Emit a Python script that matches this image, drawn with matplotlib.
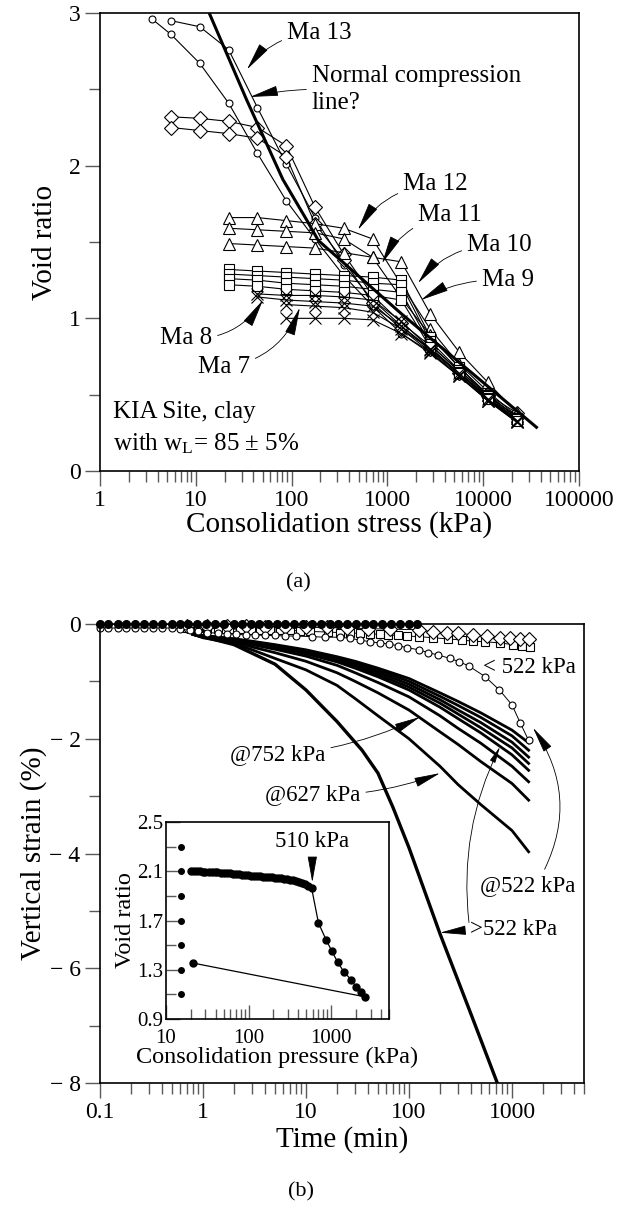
import numpy as np
import matplotlib
matplotlib.use("Agg")
import matplotlib.pyplot as plt
from matplotlib.ticker import LogLocator, NullFormatter, FixedLocator

plt.rcParams.update({
    "font.family": "Liberation Serif",
    "mathtext.fontset": "custom",
    "mathtext.rm": "Liberation Serif",
    "mathtext.it": "Liberation Serif:italic",
    "axes.linewidth": 1.2,
})

# ---------------- (a) oedometer curves ----------------
p_c1 = [5.5, 11, 22, 44, 88, 175, 350, 700, 1400, 2800, 5600, 11200, 22400]
e_c1 = [2.95, 2.91, 2.76, 2.38, 2.01, 1.66, 1.35, 1.12, 0.95, 0.80, 0.64, 0.48, 0.33]
p_c2 = [3.5, 5.5, 11, 22, 44, 88, 175, 350, 700, 1400, 2800, 5600, 11200, 22400]
e_c2 = [2.96, 2.86, 2.67, 2.41, 2.08, 1.77, 1.52, 1.28, 1.08, 0.90, 0.78, 0.62, 0.47, 0.33]

p_dia = [5.5, 11, 22, 44, 88, 175, 350, 700, 1400, 2800, 5600, 11200, 22400]
e_d1 = [2.32, 2.31, 2.29, 2.25, 2.13, 1.73, 1.42, 1.15, 0.97, 0.82, 0.66, 0.50, 0.38]
e_d2 = [2.25, 2.23, 2.21, 2.18, 2.06, 1.62, 1.38, 1.10, 0.93, 0.80, 0.64, 0.49, 0.36]

p_tri = [22, 44, 88, 175, 350, 700, 1400, 2800, 5600, 11200, 22400]
e_ma12 = [1.66, 1.66, 1.64, 1.62, 1.59, 1.52, 1.22, 0.93, 0.70, 0.52, 0.36]
e_ma11 = [1.59, 1.58, 1.57, 1.56, 1.52, 1.40, 1.13, 0.89, 0.68, 0.50, 0.35]
e_ma10 = [1.49, 1.48, 1.47, 1.46, 1.43, 1.40, 1.37, 1.03, 0.78, 0.58, 0.38]

p_sq = [22, 44, 88, 175, 350, 700, 1400, 2800, 5600, 11200, 22400]
e_s1 = [1.32, 1.31, 1.30, 1.29, 1.28, 1.27, 1.25, 0.88, 0.68, 0.50, 0.35]
e_s2 = [1.29, 1.28, 1.27, 1.26, 1.25, 1.23, 1.22, 0.85, 0.66, 0.49, 0.34]
e_s3 = [1.26, 1.25, 1.23, 1.22, 1.21, 1.19, 1.17, 0.83, 0.65, 0.48, 0.34]
e_s4 = [1.22, 1.21, 1.19, 1.18, 1.17, 1.15, 1.12, 0.81, 0.64, 0.47, 0.33]

p_x1 = [44, 88, 175, 350, 700, 1400, 2800, 5600, 11200, 22400]
e_x1 = [1.16, 1.15, 1.15, 1.14, 1.12, 0.98, 0.80, 0.64, 0.47, 0.33]
e_x2 = [1.14, 1.12, 1.11, 1.10, 1.08, 0.95, 0.79, 0.63, 0.46, 0.33]
p_x3 = [88, 175, 350, 700, 1400, 2800, 5600, 11200, 22400]
e_x3 = [1.09, 1.08, 1.07, 1.04, 0.93, 0.78, 0.62, 0.46, 0.32]
e_x4 = [1.00, 1.00, 1.00, 0.99, 0.90, 0.77, 0.62, 0.46, 0.32]

p_ncl = [13.8, 34, 81, 145, 190, 1400, 37000]
e_ncl = [3.0, 2.43, 1.91, 1.64, 1.51, 1.03, 0.28]

# ---------------- (b) strain vs time ----------------
t_fill = [0.1, 0.12, 0.15, 0.18, 0.22, 0.27, 0.33, 0.4, 0.5, 0.6, 0.72, 0.88,
          1.07, 1.3, 1.6, 2, 2.4, 2.9, 3.5, 4.3, 5.2, 6.3, 7.7, 9.4, 11.4, 14,
          17, 20.5, 25, 30.5, 37, 45, 55, 67, 82, 100, 120]
s_fill = [0.0] * len(t_fill)

t_open = [0.1, 0.12, 0.15, 0.18, 0.22, 0.27, 0.33, 0.4, 0.5, 0.6, 0.75, 0.9,
          1.1, 1.4, 1.7, 2.1, 2.6, 3.2, 4, 5, 6.3, 8, 11.4, 15.3, 21.4, 26.7,
          33.4, 41.8, 52, 64, 79, 95, 124, 154, 192, 250, 308, 380, 550, 755,
          1000, 1200, 1450]
s_open = [-0.07, -0.07, -0.07, -0.07, -0.07, -0.07, -0.07, -0.07, -0.07, -0.09,
          -0.11, -0.13, -0.15, -0.16, -0.17, -0.18, -0.19, -0.19, -0.20, -0.20,
          -0.21, -0.21, -0.22, -0.23, -0.23, -0.25, -0.28, -0.31, -0.33, -0.35,
          -0.38, -0.41, -0.45, -0.50, -0.54, -0.60, -0.66, -0.73, -0.92, -1.15,
          -1.41, -1.72, -2.03]

t_sq = [0.7, 0.9, 1.1, 1.4, 1.8, 2.3, 2.9, 3.6, 4.5, 5.6, 7, 8.7, 10.9, 16.4,
        21.4, 26.7, 33.4, 41.8, 52, 62, 78, 95, 124, 172, 240, 330, 420, 550,
        770, 1020, 1250, 1480]
s_sq = [-0.07, -0.07, -0.08, -0.08, -0.09, -0.09, -0.10, -0.10, -0.10, -0.11,
        -0.11, -0.12, -0.13, -0.14, -0.15, -0.16, -0.16, -0.17, -0.18, -0.19,
        -0.20, -0.21, -0.22, -0.24, -0.26, -0.28, -0.30, -0.31, -0.33, -0.36,
        -0.38, -0.40]

t_dia = [0.7, 1.1, 1.7, 2.6, 4, 6.3, 10, 16, 25, 40, 66, 124, 172, 235, 300,
         420, 570, 770, 960, 1200, 1450]
s_dia = [-0.03, -0.03, -0.04, -0.04, -0.05, -0.05, -0.06, -0.06, -0.07, -0.08,
         -0.09, -0.10, -0.14, -0.16, -0.16, -0.19, -0.21, -0.24, -0.24, -0.26,
         -0.27]

t_line = [0.8, 1, 2, 3, 5, 10, 20, 30, 50, 100, 200, 300, 500, 1000, 1450]
s_lines = [
    [-0.17, -0.20, -0.26, -0.30, -0.36, -0.45, -0.57, -0.65, -0.77, -0.95, -1.20, -1.35, -1.55, -1.85, -2.07],
    [-0.17, -0.20, -0.26, -0.31, -0.37, -0.47, -0.59, -0.68, -0.80, -1.00, -1.26, -1.42, -1.63, -1.95, -2.20],
    [-0.17, -0.21, -0.27, -0.32, -0.38, -0.49, -0.61, -0.71, -0.84, -1.05, -1.32, -1.50, -1.72, -2.06, -2.32],
    [-0.17, -0.21, -0.27, -0.33, -0.39, -0.50, -0.64, -0.74, -0.88, -1.10, -1.38, -1.57, -1.81, -2.16, -2.43],
    [-0.18, -0.22, -0.28, -0.34, -0.41, -0.52, -0.66, -0.77, -0.92, -1.15, -1.45, -1.65, -1.90, -2.28, -2.55],
    [-0.18, -0.22, -0.29, -0.36, -0.44, -0.56, -0.72, -0.85, -1.02, -1.27, -1.60, -1.82, -2.08, -2.48, -2.75],
    [-0.18, -0.23, -0.31, -0.40, -0.50, -0.65, -0.85, -1.00, -1.20, -1.50, -1.88, -2.10, -2.40, -2.78, -3.07],
    [-0.18, -0.24, -0.34, -0.45, -0.60, -0.80, -1.07, -1.30, -1.60, -2.00, -2.48, -2.80, -3.15, -3.60, -3.97],
]
t_big = [0.8, 1, 2, 5, 10, 20, 35, 50, 70, 100, 200, 400, 720]
s_big = [-0.18, -0.22, -0.36, -0.70, -1.15, -1.70, -2.20, -2.60, -3.20, -3.90,
         -5.40, -6.80, -8.0]

# ---------------- inset ----------------
p_in = [20, 22, 24, 26, 28, 30, 33, 36, 39, 42, 46, 50, 54, 59, 64, 70, 76, 83,
        90, 98, 107, 116, 126, 137, 149, 162, 176, 192, 209, 227, 247, 269, 292,
        318, 346, 376, 409, 445, 484, 527, 580, 700, 870, 1020, 1200, 1430, 1740,
        2000, 2270, 2560, 21]
e_in = [2.100, 2.100, 2.099, 2.098, 2.097, 2.096, 2.095, 2.094, 2.092, 2.091,
        2.089, 2.087, 2.085, 2.083, 2.080, 2.078, 2.076, 2.073, 2.070, 2.068,
        2.065, 2.063, 2.061, 2.059, 2.057, 2.055, 2.053, 2.050, 2.048, 2.046,
        2.043, 2.040, 2.036, 2.032, 2.027, 2.021, 2.013, 2.004, 1.993, 1.980,
        1.960, 1.68, 1.54, 1.45, 1.36, 1.28, 1.22, 1.16, 1.12, 1.08, 1.355]
p_tickdots = [15] * 7
e_tickdots = [2.3, 2.1, 1.9, 1.7, 1.5, 1.3, 1.1]

fig = plt.figure(figsize=(6.27, 12.12), dpi=100)
W, H = 627.0, 1212.0

tick_kw = dict(direction="out", colors="0.35", labelcolor="black")

# ---------- panel (a) ----------
ax1 = fig.add_axes([100 / W, 1 - 471 / H, 479 / W, 458 / H])
ax1.set_xscale("log")
ax1.set_xlim(1, 1e5)
ax1.set_ylim(0, 3)

mk = dict(color="black", lw=0.8, mfc="white", mec="black", mew=0.8)
ax1.plot(p_c1, e_c1, marker="o", ms=5, **mk)
ax1.plot(p_c2, e_c2, marker="o", ms=5, **mk)
ax1.plot(p_dia, e_d1, marker="D", ms=7, **mk)
ax1.plot(p_dia, e_d2, marker="D", ms=7, **mk)
for e in (e_ma12, e_ma11, e_ma10):
    ax1.plot(p_tri, e, marker="^", ms=8, **mk)
for e in (e_s1, e_s2, e_s3, e_s4):
    ax1.plot(p_sq, e, marker="s", ms=6.5, **mk)
ax1.plot(p_x1, e_x1, marker="x", ms=8, **mk)
ax1.plot(p_x1, e_x2, marker="x", ms=8, **mk)
ax1.plot(p_x3, e_x3, marker="x", ms=8, **mk)
ax1.plot(p_x3, e_x4, marker="x", ms=8, **mk)
ax1.plot(p_ncl, e_ncl, color="black", lw=2.2, solid_capstyle="butt")

ax1.xaxis.set_major_locator(FixedLocator([1, 10, 100, 1000, 10000, 100000]))
ax1.xaxis.set_minor_locator(LogLocator(base=10, subs=np.arange(2, 10), numticks=20))
ax1.xaxis.set_minor_formatter(NullFormatter())
ax1.set_xticklabels(["1", "10", "100", "1000", "10000", "100000"])
ax1.set_yticks([0, 1, 2, 3])
ax1.set_yticks([0.5, 1.5, 2.5], minor=True)
ax1.tick_params(which="major", length=11, width=1, labelsize=17, pad=3, **tick_kw)
ax1.tick_params(which="minor", length=8, width=1, **tick_kw)
ax1.set_xlabel("Consolidation stress (kPa)", fontsize=21, labelpad=0)
ax1.set_ylabel("Void ratio", fontsize=21, labelpad=8)

arr = dict(arrowstyle="-|>,head_length=1.0,head_width=0.18", color="black",
           lw=0.6, shrinkA=2, shrinkB=0)
fs_a = 18
ax1.annotate("Ma 13", xy=(34.2, 2.63), xytext=(89.5, 2.87), fontsize=fs_a,
             va="center", ha="left",
             arrowprops=dict(connectionstyle="arc3,rad=0.25", **arr))
ax1.annotate("Normal compression\nline?", xy=(36.8, 2.45), xytext=(163, 2.50),
             fontsize=fs_a, va="center", ha="left", linespacing=1.3,
             arrowprops=dict(connectionstyle="arc3,rad=0.05", relpos=(0, 0.5), **arr))
ax1.annotate("Ma 12", xy=(493, 1.58), xytext=(1456, 1.88), fontsize=fs_a,
             va="center", ha="left",
             arrowprops=dict(connectionstyle="arc3,rad=0.25", **arr))
ax1.annotate("Ma 11", xy=(879, 1.36), xytext=(2085, 1.68), fontsize=fs_a,
             va="center", ha="left",
             arrowprops=dict(connectionstyle="arc3,rad=0.25", **arr))
ax1.annotate("Ma 10", xy=(2085, 1.23), xytext=(6780, 1.48), fontsize=fs_a,
             va="center", ha="left",
             arrowprops=dict(connectionstyle="arc3,rad=0.25", **arr))
ax1.annotate("Ma 9", xy=(2240, 1.12), xytext=(9710, 1.25), fontsize=fs_a,
             va="center", ha="left",
             arrowprops=dict(connectionstyle="arc3,rad=0.15", **arr))
ax1.annotate("Ma 8", xy=(50.3, 1.12), xytext=(14.8, 0.87), fontsize=fs_a,
             va="center", ha="right",
             arrowprops=dict(connectionstyle="arc3,rad=0.3", **arr))
ax1.annotate("Ma 7", xy=(122, 1.07), xytext=(36.8, 0.68), fontsize=fs_a,
             va="center", ha="right",
             arrowprops=dict(connectionstyle="arc3,rad=0.3", **arr))
ax1.text(1.37, 0.386, "KIA Site, clay", fontsize=fs_a, va="center", ha="left")
ax1.text(1.37, 0.18, r"with w$_{\mathregular{L}}$= 85 $\pm$ 5%", fontsize=fs_a,
         va="center", ha="left")

fig.text(298 / W, 1 - 583 / H, "(a)", fontsize=16, ha="center", va="center")

# ---------- panel (b) ----------
ax2 = fig.add_axes([100 / W, 1 - 1083 / H, 484 / W, 459 / H])
ax2.set_xscale("log")
ax2.set_xlim(0.1, 5000)
ax2.set_ylim(-8, 0)

for s in s_lines:
    ax2.plot(t_line, s, color="black", lw=2.0)
ax2.plot(t_big, s_big, color="black", lw=2.4)
ax2.plot(t_sq, s_sq, marker="s", ms=6, color="black", lw=0.7, mfc="white",
         mec="black", mew=0.8, clip_on=False)
ax2.plot(t_dia, s_dia, marker="D", ms=7, color="black", lw=0.7, mfc="white",
         mec="black", mew=0.8, clip_on=False)
ax2.plot(t_open, s_open, marker="o", ms=5, color="black", lw=0.7, mfc="white",
         mec="black", mew=0.8, clip_on=False)
ax2.plot(t_fill, s_fill, marker="o", ms=5.5, color="black", lw=0.7, mfc="black",
         mec="black", clip_on=False)

ax2.xaxis.set_major_locator(FixedLocator([0.1, 1, 10, 100, 1000]))
ax2.xaxis.set_minor_locator(LogLocator(base=10, subs=np.arange(2, 10), numticks=20))
ax2.xaxis.set_minor_formatter(NullFormatter())
ax2.set_xticklabels(["0.1", "1", "10", "100", "1000"])
ax2.set_yticks([0, -2, -4, -6, -8])
ax2.set_yticklabels(["0", "\u2212 2", "\u2212 4", "\u2212 6", "\u2212 8"])
ax2.set_yticks([-1, -3, -5, -7], minor=True)
ax2.tick_params(which="major", length=11, width=1, labelsize=17, pad=3, **tick_kw)
ax2.tick_params(which="minor", length=8, width=1, **tick_kw)
ax2.set_xlabel("Time (min)", fontsize=21, labelpad=2)
ax2.set_ylabel("Vertical strain (%)", fontsize=21, labelpad=2)

fs_b = 16.5
ax2.text(522, -0.75, "< 522 kPa", fontsize=fs_b, ha="left", va="center")
ax2.annotate("@752 kPa", xy=(128, -1.62), xytext=(1.83, -2.28), fontsize=fs_b,
             va="center", ha="left",
             arrowprops=dict(connectionstyle="arc3,rad=0.1", **arr))
ax2.annotate("@627 kPa", xy=(200, -2.6), xytext=(4.0, -2.98), fontsize=fs_b,
             va="center", ha="left",
             arrowprops=dict(connectionstyle="arc3,rad=0.1", **arr))
ax2.annotate("@522 kPa", xy=(1600, -1.81), xytext=(489, -4.55), fontsize=fs_b,
             va="center", ha="left",
             arrowprops=dict(connectionstyle="arc3,rad=0.3", relpos=(0.65, 1.0), **arr))
ax2.annotate(">522 kPa", xy=(200, -5.38), xytext=(391, -5.33), fontsize=fs_b,
             va="center", ha="left",
             arrowprops=dict(connectionstyle="arc3,rad=0", relpos=(0, 0.5), **arr))
ax2.annotate("", xy=(764, -2.14), xytext=(385, -5.25),
             arrowprops=dict(connectionstyle="arc3,rad=-0.15", **arr))

fig.text(301 / W, 1 - 1192 / H, "(b)", fontsize=16, ha="center", va="center")

# ---------- inset ----------
ax3 = fig.add_axes([166 / W, 1 - 1019 / H, 223 / W, 197 / H])
ax3.set_xscale("log")
ax3.set_xlim(10, 5000)
ax3.set_ylim(0.9, 2.5)
ax3.plot(p_in, e_in, color="black", lw=0.9, marker="o", ms=5, mfc="black",
         mec="black")
ax3.plot(p_tickdots, e_tickdots, ls="none", marker="o", ms=4, color="black")
ax3.xaxis.set_major_locator(FixedLocator([10, 100, 1000]))
ax3.xaxis.set_minor_locator(LogLocator(base=10, subs=np.arange(2, 10), numticks=20))
ax3.xaxis.set_minor_formatter(NullFormatter())
ax3.set_xticklabels(["10", "100", "1000"])
ax3.set_yticks([0.9, 1.3, 1.7, 2.1, 2.5])
ax3.set_yticklabels(["0.9", "1.3", "1.7", "2.1", "2.5"])
ax3.set_yticks([1.1, 1.5, 1.9, 2.3], minor=True)
ax3.tick_params(which="major", direction="in", length=10, width=1, colors="0.35",
                labelcolor="black", labelsize=15, pad=2)
ax3.tick_params(axis="x", which="major", pad=7)
ax3.tick_params(which="minor", direction="in", length=7, width=1, colors="0.35")
ax3.set_xlabel("Consolidation pressure (kPa)", fontsize=17.5, labelpad=-1)
ax3.set_ylabel("Void ratio", fontsize=17.5, labelpad=1)
arr_in = dict(arr)
arr_in["shrinkA"] = 4
ax3.annotate("510 kPa", xy=(590, 2.01), xytext=(590, 2.34), fontsize=fs_b,
             ha="center", va="center",
             arrowprops=dict(connectionstyle="arc3,rad=0", **arr_in))

fig.savefig("out.png", dpi=100)
